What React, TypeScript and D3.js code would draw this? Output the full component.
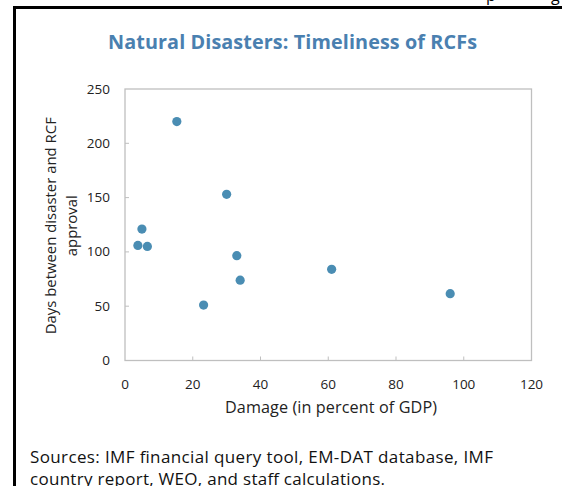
import React from "react";
import * as d3 from "d3";

const damage = [15.3, 30.0, 5.0, 3.8, 6.6, 33.0, 34.0, 23.2, 61.0, 96.0];
const days = [220, 153, 121, 106, 105, 96.5, 74, 51, 84, 61.5];
const xTicks = [0, 20, 40, 60, 80, 100, 120];
const yTicks = [0, 50, 100, 150, 200, 250];
const title = "Natural Disasters: Timeliness of RCFs";
const xTitle = "Damage (in percent of GDP)";
const yTitleLines = ["Days between disaster and RCF", "approval"];
const sourceLines = [
  "Sources: IMF financial query tool, EM-DAT database, IMF",
  "country report, WEO, and staff calculations.",
];

export default function App() {
  const W = 562, H = 486;
  const L = 125, R = 531.5, T = 89, B = 360.5;
  const x = d3.scaleLinear().domain([0, 120]).range([L, R]);
  const y = d3.scaleLinear().domain([0, 250]).range([B, T]);
  const font = "'Open Sans', 'Noto Sans', sans-serif";
  const axisCol = "#bfbfbf";
  const textCol = "#222";
  const dotCol = "#4a8db3";
  const yMid = (T + B) / 2;
  const srcLens = [463, 355];
  return (
    <svg width={W} height={H} style={{ position: "absolute", left: 0, top: 0, background: "#fff" }} fontFamily={font}>
      <rect x={0} y={0} width={W} height={H} fill="#fff" />
      {/* frame */}
      <line x1={14.5} y1={7} x2={14.5} y2={H} stroke="#000" strokeWidth={3} />
      <line x1={13} y1={7.5} x2={W} y2={7.5} stroke="#000" strokeWidth={3} />
      <text x={486} y={1} fontSize={16} fill="#000">p</text>
      <text x={551} y={1} fontSize={16} fill="#000">g</text>
      {/* title */}
      <text x={108} y={48.5} fontSize={19.8} fontWeight="bold" fill="#4a80b0" textLength={369} lengthAdjust="spacing">{title}</text>
      {/* plot area */}
      <rect x={L} y={T} width={R - L} height={B - T} fill="none" stroke={axisCol} strokeWidth={1.3} />
      {xTicks.map((t) => (
        <g key={"x" + t}>
          {t > 0 && t < 120 && <line x1={x(t)} x2={x(t)} y1={B} y2={B - 4} stroke={axisCol} strokeWidth={1} />}
          <text x={x(t)} y={389} textAnchor="middle" fontSize={13.5} fill={textCol}>{t}</text>
        </g>
      ))}
      {yTicks.map((t) => (
        <g key={"y" + t}>
          {t > 0 && t < 250 && <line x1={L} x2={L + 4} y1={y(t)} y2={y(t)} stroke={axisCol} strokeWidth={1} />}
          <text x={110} y={y(t) + 4.5} textAnchor="end" fontSize={13.5} fill={textCol}>{t}</text>
        </g>
      ))}
      <text x={225} y={413} fontSize={16.2} fill={textCol} textLength={212} lengthAdjust="spacing">{xTitle}</text>
      {yTitleLines.map((s, i) => (
        <text key={s} transform={`translate(${55.5 + i * 21.5},${yMid + 1}) rotate(-90)`} textAnchor="middle" fontSize={14.9} fill={textCol}>{s}</text>
      ))}
      {damage.map((d, i) => (
        <circle key={i} cx={x(d)} cy={y(days[i])} r={4.6} fill={dotCol} />
      ))}
      {sourceLines.map((s, i) => (
        <text key={s} x={30} y={462.5 + i * 22.5} fontSize={17} fill="#111" textLength={srcLens[i]} lengthAdjust="spacing">{s}</text>
      ))}
    </svg>
  );
}
